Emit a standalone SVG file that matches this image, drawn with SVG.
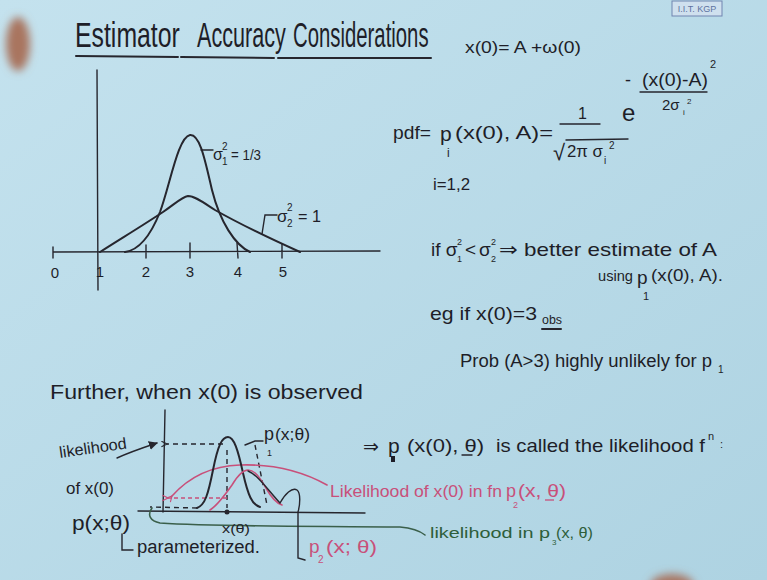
<svg xmlns="http://www.w3.org/2000/svg" width="767" height="580" viewBox="0 0 767 580">
<defs>
<linearGradient id="bg" x1="0" y1="0" x2="1" y2="1">
<stop offset="0" stop-color="#c4e2ee"/>
<stop offset="1" stop-color="#aed3e2"/>
</linearGradient>
<filter id="blur" x="-50%" y="-50%" width="200%" height="200%"><feGaussianBlur stdDeviation="4"/></filter>
<marker id="openL" viewBox="0 0 10 10" refX="1" refY="5" markerWidth="7" markerHeight="7" orient="auto-start-reverse" markerUnits="userSpaceOnUse">
<path d="M9,1 L1,5 L9,9" fill="none" stroke="#26262e" stroke-width="1.6"/>
</marker>
<marker id="openP" viewBox="0 0 10 10" refX="1" refY="5" markerWidth="7" markerHeight="7" orient="auto-start-reverse" markerUnits="userSpaceOnUse">
<path d="M9,1 L1,5 L9,9" fill="none" stroke="#c8507a" stroke-width="1.6"/>
</marker>
<marker id="fill" viewBox="0 0 10 10" refX="9" refY="5" markerWidth="9" markerHeight="9" orient="auto" markerUnits="userSpaceOnUse">
<path d="M0,0 L10,5 L0,10 z" fill="#26262e"/>
</marker>
</defs>
<style>
text{font-family:"Liberation Sans","DejaVu Sans",sans-serif;fill:#1e1e28}
.ink{fill:none;stroke:#26262e;stroke-width:2;stroke-linecap:round;stroke-linejoin:round}
.thin{fill:none;stroke:#26262e;stroke-width:1.4;stroke-linecap:round}
.dash{fill:none;stroke:#26262e;stroke-width:1.4;stroke-dasharray:5 4}
.pink{fill:none;stroke:#c8507a;stroke-width:1.6;stroke-linecap:round}
.pdash{fill:none;stroke:#c8507a;stroke-width:1.3;stroke-dasharray:4 3}
.green{fill:none;stroke:#3a5f4a;stroke-width:1.6;stroke-linecap:round}
.pt{fill:#c8507a}
.gt{fill:#2e5e3a}
.sm{font-size:10px}
.ttl{font-size:36px}
</style>
<rect width="767" height="580" fill="url(#bg)"/>
<!-- hand top-left and bottom -->
<ellipse cx="18" cy="44" rx="12" ry="27" fill="#a9755e" filter="url(#blur)"/>
<ellipse cx="672" cy="586" rx="22" ry="12" fill="#a87560" filter="url(#blur)"/>

<!-- badge -->
<g id="badge">
<rect x="672" y="1" width="50" height="15" fill="#cfe0ee" stroke="#7085b0" stroke-width="1"/>
<text x="697" y="12" font-size="9" text-anchor="middle" style="fill:#5d72a0">I.I.T. KGP</text>
</g>

<!-- title -->
<g id="title">
<text class="ttl" transform="translate(75,47) scale(0.69,1)">Estimator</text>
<text class="ttl" transform="translate(197,47) scale(0.6,1)">Accuracy</text>
<text class="ttl" transform="translate(293,47) scale(0.565,1)">Considerations</text>
<path class="ink" d="M76,56 L178,57 M181,57 L274,58 M278,58 L431,58" stroke-width="2.6"/>
</g>

<!-- equations top right -->
<g id="model">
<text x="465" y="53" font-size="17" textLength="116" lengthAdjust="spacingAndGlyphs">x(0)= A +ω(0)</text>
</g>
<g id="pdf">
<text x="393" y="139" font-size="19" textLength="38" lengthAdjust="spacingAndGlyphs">pdf=</text>
<text x="440" y="141" font-size="21">p</text>
<text x="447" y="157" font-size="12">i</text>
<text x="455" y="139" font-size="18" textLength="98" lengthAdjust="spacingAndGlyphs">(x(0), A)=</text>
<text x="578" y="119" font-size="16">1</text>
<path class="thin" d="M560,124 L600,124"/>
<text x="553" y="160" font-size="22">√</text>
<path class="thin" d="M566,140 L628,139"/>
<text x="567" y="157" font-size="16" textLength="36" lengthAdjust="spacingAndGlyphs">2π σ</text>
<text x="604" y="164" class="sm">i</text>
<text x="609" y="149" class="sm">2</text>
<text x="622" y="121" font-size="24">e</text>
<text x="625" y="86" font-size="18">-</text>
<text x="642" y="86" font-size="18" textLength="66" lengthAdjust="spacingAndGlyphs">(x(0)-A)</text>
<text x="710" y="68" font-size="11">2</text>
<path class="thin" d="M640,92 L707,92" stroke-width="1.8"/>
<text x="662" y="110" font-size="15">2σ</text>
<text x="683" y="115" font-size="8">i</text>
<text x="687" y="104" font-size="8">2</text>
<text x="433" y="190" font-size="16" textLength="37" lengthAdjust="spacingAndGlyphs">i=1,2</text>
</g>

<!-- top graph -->
<g id="axes1">
<path class="thin" d="M97,70 L98,290"/>
<path class="thin" d="M53,252 L380,251 M53,247 L53,258 M146,245 L146,258 M190,243 L190,258 M237,243 L238,258 M282,244 L282,258"/>
<text x="55" y="278" font-size="15" text-anchor="middle">0</text>
<text x="100" y="277" font-size="15" text-anchor="middle">1</text>
<text x="146" y="277" font-size="15" text-anchor="middle">2</text>
<text x="190" y="277" font-size="15" text-anchor="middle">3</text>
<text x="238" y="277" font-size="15" text-anchor="middle">4</text>
<text x="283" y="277" font-size="15" text-anchor="middle">5</text>
</g>
<g id="curve1">
<path class="ink" d="M125,252 C140,250 152,232 160,212 C170,185 178,137 190,135 C200,134 205,160 212,190 C220,222 235,245 250,252"/>
<path class="thin" d="M201,150 L213,150"/>
<text x="213" y="160" font-size="16">σ</text>
<text x="222" y="165" class="sm">1</text>
<text x="222" y="150" class="sm">2</text>
<text x="231" y="160" font-size="14" textLength="30" lengthAdjust="spacingAndGlyphs">= 1/3</text>
</g>
<g id="curve2">
<path class="ink" d="M100,252 C122,238 145,224 163,212 C176,203 182,197 188,196 C195,196 204,203 215,210 C245,227 280,243 300,252"/>
<path class="thin" d="M262,234 L265,215 L277,215"/>
<text x="277" y="222" font-size="17">σ</text>
<text x="287" y="227" class="sm">2</text>
<text x="287" y="211" class="sm">2</text>
<text x="298" y="222" font-size="16" textLength="23" lengthAdjust="spacingAndGlyphs">= 1</text>
</g>

<!-- right notes -->
<g id="notes">
<text x="431" y="256" font-size="19">if σ</text>
<text x="457" y="245" font-size="9">2</text>
<text x="457" y="262" font-size="9">1</text>
<text x="465" y="256" font-size="19">&lt;</text>
<text x="479" y="256" font-size="19">σ</text>
<text x="491" y="245" font-size="9">2</text>
<text x="491" y="262" font-size="9">2</text>
<text x="499" y="256" font-size="19" textLength="218" lengthAdjust="spacingAndGlyphs">⇒ better estimate of A</text>
<text x="598" y="281" font-size="14" textLength="35" lengthAdjust="spacingAndGlyphs">using</text>
<text x="637" y="284" font-size="19">p</text>
<text x="643" y="300" font-size="11">1</text>
<text x="651" y="281" font-size="17" textLength="72" lengthAdjust="spacingAndGlyphs">(x(0), A).</text>
<text x="430" y="320" font-size="19" textLength="107" lengthAdjust="spacingAndGlyphs">eg if x(0)=3</text>
<text x="542" y="324" font-size="12" textLength="20" lengthAdjust="spacingAndGlyphs">obs</text>
<path class="ink" d="M542,329 L561,329" stroke-width="2.4"/>
<text x="460" y="367" font-size="18" textLength="252" lengthAdjust="spacingAndGlyphs">Prob (A&gt;3) highly unlikely for p</text>
<text x="718" y="373" font-size="10">1</text>
</g>

<!-- bottom section -->
<g id="further">
<text x="50" y="399" font-size="20" textLength="313" lengthAdjust="spacingAndGlyphs">Further, when x(0) is observed</text>
</g>
<g id="leftlabels">
<text x="60" y="458" font-size="16" textLength="68" lengthAdjust="spacingAndGlyphs" transform="rotate(-8 60 458)">likelihood</text>
<text x="66" y="494" font-size="17" textLength="48" lengthAdjust="spacingAndGlyphs">of x(0)</text>
<text x="72" y="530" font-size="21" textLength="58" lengthAdjust="spacingAndGlyphs">p(x;θ)</text>
<path class="thin" d="M122,534 L122,550 L133,550"/>
<text x="137" y="553" font-size="18" textLength="123" lengthAdjust="spacingAndGlyphs">parameterized.</text>
</g>
<g id="axes2">
<path class="thin" d="M165,410 L163,512"/>
<path class="thin" d="M138,511 L365,513"/>
</g>
<g id="connectors">
<path class="thin" d="M117,458 C130,452 145,447 157,443" marker-end="url(#fill)"/>
<path class="dash" d="M223,444 L167,444" marker-end="url(#openL)"/>
<path class="dash" d="M227,450 L227,508 M255,445 L267,505"/>
<path class="dash" d="M197,508 L150,507"/>
<path class="pdash" d="M227,498 L168,498" marker-end="url(#openP)"/>
<path class="pink" d="M327,485 C300,470 270,464 240,465 C210,466 188,478 172,496" marker-end="url(#openP)"/>
<path class="green" d="M152,508 C147,515 150,521 160,523 C220,527 320,526 400,527 C412,528 420,531 425,535"/>
<path class="thin" d="M245,445 L255,441 L263,441"/>
</g>
<g id="p1curve">
<path class="ink" d="M197,508 C205,505 208,495 213,470 C218,445 222,437 228,437 C234,437 238,450 243,473 C248,495 252,505 260,507" stroke-width="2.6"/>
<circle cx="227" cy="512" r="2.5" fill="#26262e"/>
<text x="222" y="533" font-size="13" textLength="28" lengthAdjust="spacingAndGlyphs">x(θ)</text>
<text x="264" y="440" font-size="18">p</text>
<text x="267" y="456" font-size="9">1</text>
<text x="275" y="440" font-size="17" textLength="35" lengthAdjust="spacingAndGlyphs">(x;θ)</text>
</g>
<g id="p2curve">
<path class="pink" d="M210,510 C218,505 225,495 232,485 C238,475 243,470 248,470 C255,470 260,478 266,488 C271,497 276,503 282,505"/>
<path class="thin" d="M248,471 C258,475 268,490 280,503 C285,494 292,487 297,490 C301,493 300,505 298,512 L298,558 L305,560"/>
<text x="309" y="553" font-size="19" class="pt">p</text>
<text x="318" y="563" font-size="10" class="pt">2</text>
<text x="326" y="553" font-size="19" class="pt" textLength="51" lengthAdjust="spacingAndGlyphs">(x; θ)</text>
</g>
<g id="likelihoodfn">
<text x="363" y="453" font-size="19">⇒</text>
<text x="388" y="453" font-size="21">p</text>
<rect x="391" y="456" width="4" height="6" fill="#1e1e28"/>
<text x="407" y="452" font-size="19" textLength="77" lengthAdjust="spacingAndGlyphs">(x(0), θ)</text>
<path class="thin" d="M462,455 L472,455"/>
<text x="496" y="452" font-size="19" textLength="209" lengthAdjust="spacingAndGlyphs">is called the likelihood f</text>
<text x="708" y="440" font-size="11">n</text>
<text x="720" y="448" font-size="11">:</text>
</g>
<g id="pinklabel">
<text x="330" y="497" font-size="17" class="pt" textLength="172" lengthAdjust="spacingAndGlyphs">Likelihood of x(0) in fn</text>
<text x="506" y="497" font-size="18" class="pt">p</text>
<text x="513" y="508" font-size="9" class="pt">2</text>
<text x="518" y="497" font-size="18" class="pt" textLength="48" lengthAdjust="spacingAndGlyphs">(x, θ)</text>
<path d="M545,500 L554,500" stroke="#c8507a" stroke-width="1.3"/>
</g>
<g id="greenlabel">
<text x="430" y="538" font-size="15" class="gt" textLength="120" lengthAdjust="spacingAndGlyphs">likelihood in p</text>
<text x="552" y="545" font-size="8" class="gt">3</text>
<text x="556" y="538" font-size="15" class="gt" textLength="37" lengthAdjust="spacingAndGlyphs">(x, θ)</text>
</g>
</svg>
